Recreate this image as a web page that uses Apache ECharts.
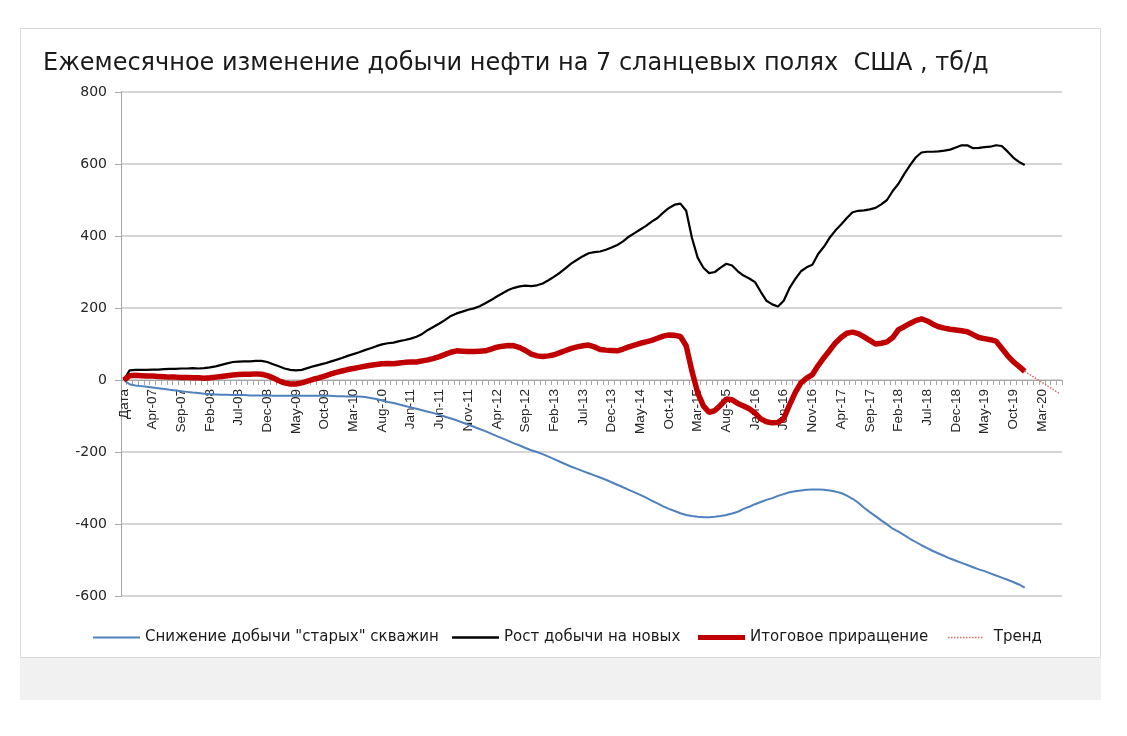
<!DOCTYPE html>
<html lang="ru">
<head>
<meta charset="utf-8">
<script src="https://cdn.jsdelivr.net/npm/echarts@6/dist/echarts.min.js"></script>
<style>
  html, body { margin: 0; padding: 0; background: #fff; }
  #chartMain { width: 1127px; height: 736px; }
</style>
</head>
<body>
<div id="chartMain"></div>
<script>
    // подписи оси X: первая строка таблицы "Дата", далее месяцы с Dec-06
    var monthNames = ['Jan','Feb','Mar','Apr','May','Jun','Jul','Aug','Sep','Oct','Nov','Dec'];
    var categories = ['Дата'];
    var yr = 2006, mo = 11;
    while (categories.length < 164) {
        categories.push(monthNames[mo] + '-' + String(yr % 100).padStart(2, '0'));
        mo++;
        if (mo === 12) { mo = 0; yr++; }
    }

    var seriesNames = ['Снижение добычи "старых" скважин', 'Рост добычи на новых', 'Итоговое приращение', 'Тренд'];

    var oldWells = [0,-12,-15,-17,-19,-21,-23,-25,-27,-29,
        -31,-33,-35,-36,-38,-39,-40,-41,-41,-42,
        -42,-42,-43,-43,-43,-43,-44,-44,-44,-44,
        -44,-44,-44,-44,-44,-44,-44,-45,-45,-46,
        -46,-46,-47,-50,-53,-57,-61,-64,-68,-72,
        -76,-80,-84,-88,-92,-97,-102,-107,-112,-118,
        -124,-130,-136,-142,-149,-156,-162,-169,-176,-182,
        -189,-195,-200,-206,-213,-220,-227,-234,-241,-247,
        -253,-259,-265,-271,-277,-284,-291,-298,-305,-312,
        -319,-327,-335,-343,-351,-358,-364,-370,-375,-378,
        -380,-381,-381,-380,-378,-375,-371,-366,-358,-352,
        -345,-339,-333,-328,-322,-317,-312,-309,-307,-305,
        -304,-304,-305,-307,-310,-314,-321,-330,-341,-355,
        -367,-378,-390,-401,-413,-421,-431,-441,-450,-459,
        -467,-475,-482,-489,-496,-502,-508,-514,-520,-526,
        -531,-537,-543,-549,-555,-561,-568,-577];

    var newWells = [0,27,28,28,28,29,29,30,31,31,
        32,32,33,32,33,35,38,42,46,50,
        51,52,52,53,53,50,44,38,32,28,
        27,28,33,38,42,46,51,56,61,67,
        72,77,83,88,94,99,102,104,108,111,
        115,120,128,139,148,157,167,178,185,190,
        195,199,205,213,222,232,241,250,256,260,
        262,261,263,268,277,287,298,311,324,334,
        344,352,355,357,362,368,375,385,398,408,
        418,428,440,450,465,478,487,490,470,395,
        340,312,297,300,312,323,318,302,290,282,
        272,245,220,210,204,220,255,280,302,313,
        320,350,370,395,415,432,450,466,470,471,
        474,478,488,500,525,545,572,596,618,632,
        634,634,635,637,640,646,652,652,644,645,
        647,648,652,650,635,618,606,597];

    var netChange = [0,12,13,12,11,11,10,9,8,8,
        7,7,6,6,5,6,8,10,12,14,
        15,16,16,17,16,12,6,-2,-8,-11,
        -11,-8,-3,2,6,11,16,21,25,29,
        32,35,38,41,43,45,46,45,47,49,
        50,50,53,56,60,65,71,77,81,80,
        79,79,80,81,86,91,94,96,95,90,
        82,72,67,65,67,70,76,82,88,92,
        95,97,92,85,83,82,81,86,92,97,
        102,106,110,116,122,125,124,121,95,25,
        -35,-72,-90,-85,-70,-53,-55,-65,-72,-80,
        -92,-108,-116,-119,-118,-107,-70,-35,-8,5,
        15,40,62,82,103,118,130,133,129,120,
        110,100,102,106,118,140,148,157,165,170,
        164,155,148,144,141,139,137,134,126,118,
        115,112,108,88,68,51,38,24];

    // линия тренда: от последней точки (Dec-19) до Jun-20
    var trendStart = 24, trendEnd = -37;
    var trend = [];
    for (var i = 0; i < 164; i++) trend.push(null);
    trend[157] = trendStart;
    trend[163] = trendEnd;

    var yTicks = { min: -600, max: 800, step: 200 };

    var myChart = echarts.init(document.getElementById('chartMain'));

    var legendText = { fontFamily: 'DejaVu Sans', fontSize: 15, color: '#1a1a1a' };
    var dotted = 'path://M0,0h2v2h-2zM4,0h2v2h-2zM8,0h2v2h-2zM12,0h2v2h-2zM16,0h2v2h-2zM20,0h2v2h-2z' +
        'M24,0h2v2h-2zM28,0h2v2h-2zM32,0h2v2h-2zM36,0h2v2h-2zM40,0h2v2h-2zM44,0h2v2h-2z';

    function legendItem(name, left, icon, h) {
        return {
            data: [name], left: left, top: 625, icon: icon,
            itemWidth: 47, itemHeight: h, textStyle: legendText
        };
    }

    myChart.setOption({
        backgroundColor: '#ffffff',
        animation: false,
        graphic: [
            { type: 'rect', z: -10, shape: { x: 20.5, y: 28.5, width: 1080, height: 629 },
              style: { fill: '#ffffff', stroke: '#d9d9d9', lineWidth: 1 } },
            { type: 'rect', z: -10, shape: { x: 20, y: 658, width: 1081, height: 42 },
              style: { fill: '#f1f1f1' } }
        ],
        title: {
            text: 'Ежемесячное изменение добычи нефти на 7 сланцевых полях  США , тб/д',
            left: 38,
            top: 47,
            textStyle: { fontFamily: 'DejaVu Sans', fontSize: 24, fontWeight: 'normal', color: '#1a1a1a' }
        },
        legend: [
            legendItem(seriesNames[0], 88, 'rect', 2),
            legendItem(seriesNames[1], 447, 'rect', 2.5),
            legendItem(seriesNames[2], 693, 'rect', 5),
            legendItem(seriesNames[3], 943, dotted, 1.5)
        ],
        grid: { left: 121, right: 65, top: 92, bottom: 140, containLabel: false },
        xAxis: {
            type: 'category',
            data: categories,
            boundaryGap: true,
            offset: -216,
            axisLine: { onZero: false, lineStyle: { color: '#a6a6a6', width: 1 } },
            axisTick: { show: true, interval: 0, length: 5, lineStyle: { color: '#a6a6a6' } },
            axisLabel: {
                interval: 4,
                rotate: 90,
                margin: 9,
                fontFamily: 'Liberation Sans',
                fontSize: 13.5,
                color: '#262626'
            },
            splitLine: { show: false }
        },
        yAxis: {
            type: 'value',
            min: yTicks.min,
            max: yTicks.max,
            interval: yTicks.step,
            axisLine: { show: true, lineStyle: { color: '#a6a6a6' } },
            axisTick: { show: true, length: 6, lineStyle: { color: '#a6a6a6' } },
            axisLabel: { fontFamily: 'DejaVu Sans', fontSize: 14, color: '#262626', margin: 14 },
            splitLine: { show: true, lineStyle: { color: '#c8c8c8', width: 1.5 } }
        },
        series: [
            {
                name: seriesNames[0], type: 'line', data: oldWells, symbol: 'none',
                lineStyle: { color: '#4f81bd', width: 2 }, itemStyle: { color: '#4f81bd' }
            },
            {
                name: seriesNames[1], type: 'line', data: newWells, symbol: 'none',
                lineStyle: { color: '#000000', width: 2.2 }, itemStyle: { color: '#000000' }
            },
            {
                name: seriesNames[2], type: 'line', data: netChange, symbol: 'none',
                lineStyle: { color: '#c00000', width: 5.5 }, itemStyle: { color: '#c00000' }
            },
            {
                name: seriesNames[3], type: 'line', data: trend, symbol: 'none', connectNulls: true,
                lineStyle: { color: '#e06a6a', width: 1.5, type: 'dotted' }, itemStyle: { color: '#e06a6a' }
            }
        ]
    });
</script>
</body>
</html>
